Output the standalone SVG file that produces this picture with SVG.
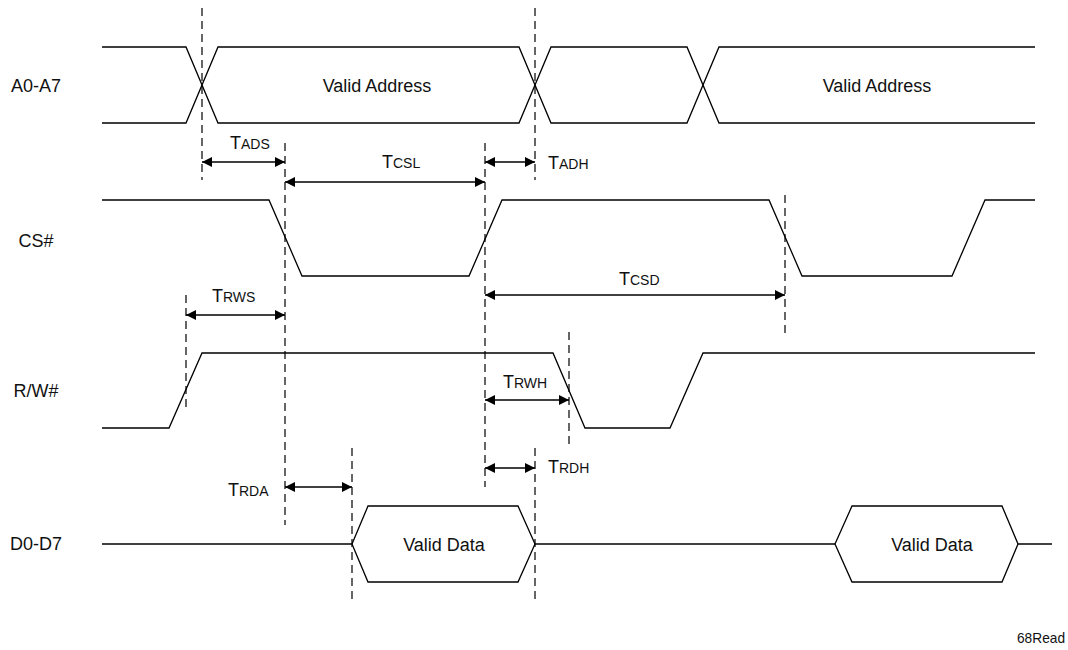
<svg xmlns="http://www.w3.org/2000/svg" width="1068" height="650" viewBox="0 0 1068 650">
<style>
.sig{fill:none;stroke:#000;stroke-width:1.3;stroke-linejoin:miter}
.dash{fill:none;stroke:#000;stroke-width:1.2;stroke-dasharray:8 5}
.arr{fill:none;stroke:#000;stroke-width:1.3;marker-start:url(#ah);marker-end:url(#ah)}
text{font-family:"Liberation Sans",Arial,sans-serif;fill:#111}
.name{font-size:18px;text-anchor:middle}
.val{font-size:18px;text-anchor:middle}
.t{font-size:18px}
.sub{font-size:14px}
.note{font-size:15px}
</style>
<defs>
<marker id="ah" viewBox="0 0 10 10" refX="10" refY="5" markerWidth="12" markerHeight="10" markerUnits="userSpaceOnUse" orient="auto-start-reverse"><path d="M0,0 L10,5 L0,10 z" fill="#000"/></marker>
</defs>
<rect width="1068" height="650" fill="#fff"/>

<g id="A0-A7">
<text class="name" x="36" y="92">A0-A7</text>
<path class="sig" d="M102,47 H186 L218,123 H519 L551,47 H687 L719,123 H1035"/>
<path class="sig" d="M102,123 H186 L218,47 H519 L551,123 H687 L719,47 H1035"/>
<text class="val" x="377" y="92">Valid Address</text>
<text class="val" x="877" y="92">Valid Address</text>
</g>

<g id="CS">
<text class="name" x="36" y="247">CS#</text>
<path class="sig" d="M102,200 H269 L302,276 H469 L502,200 H769 L802,276 H952 L985,200 H1035"/>
</g>

<g id="RW">
<text class="name" x="36" y="397">R/W#</text>
<path class="sig" d="M102,428 H169 L202,353 H553 L585,428 H670 L703,353 H1035"/>
</g>

<g id="D0-D7">
<text class="name" x="36" y="550">D0-D7</text>
<path class="sig" d="M102,544 H352"/>
<path class="sig" d="M352,544 L368,506 H518 L535,544 L518,582 H368 Z"/>
<path class="sig" d="M535,544 H835"/>
<path class="sig" d="M835,544 L852,506 H1002 L1018,544 L1002,582 H852 Z"/>
<path class="sig" d="M1018,544 H1052"/>
<text class="val" x="444" y="551">Valid Data</text>
<text class="val" x="932" y="551">Valid Data</text>
</g>

<g id="connectors">
<line class="dash" x1="202" y1="8" x2="202" y2="180"/>
<line class="dash" x1="535" y1="8" x2="535" y2="180"/>
<line class="dash" x1="285" y1="143" x2="285" y2="525"/>
<line class="dash" x1="485" y1="143" x2="485" y2="487"/>
<line class="dash" x1="785" y1="195" x2="785" y2="333"/>
<line class="dash" x1="186" y1="295" x2="186" y2="410"/>
<line class="dash" x1="569" y1="332" x2="569" y2="445"/>
<line class="dash" x1="352" y1="448" x2="352" y2="600"/>
<line class="dash" x1="535" y1="448" x2="535" y2="600"/>

<line class="arr" x1="202" y1="162" x2="285" y2="162"/>
<line class="arr" x1="285" y1="182" x2="485" y2="182"/>
<line class="arr" x1="485" y1="162" x2="535" y2="162"/>
<line class="arr" x1="485" y1="295" x2="785" y2="295"/>
<line class="arr" x1="186" y1="315" x2="285" y2="315"/>
<line class="arr" x1="485" y1="400" x2="569" y2="400"/>
<line class="arr" x1="485" y1="468" x2="535" y2="468"/>
<line class="arr" x1="285" y1="487" x2="352" y2="487"/>
</g>

<g id="labels">
<text class="t" x="230" y="149">T<tspan class="sub">ADS</tspan></text>
<text class="t" x="382" y="168">T<tspan class="sub">CSL</tspan></text>
<text class="t" x="548" y="169">T<tspan class="sub">ADH</tspan></text>
<text class="t" x="212" y="302">T<tspan class="sub">RWS</tspan></text>
<text class="t" x="619" y="285">T<tspan class="sub">CSD</tspan></text>
<text class="t" x="503" y="388">T<tspan class="sub">RWH</tspan></text>
<text class="t" x="548" y="473">T<tspan class="sub">RDH</tspan></text>
<text class="t" x="228" y="496">T<tspan class="sub">RDA</tspan></text>
<text class="note" x="1017" y="643" textLength="48" lengthAdjust="spacingAndGlyphs">68Read</text>
</g>
</svg>
